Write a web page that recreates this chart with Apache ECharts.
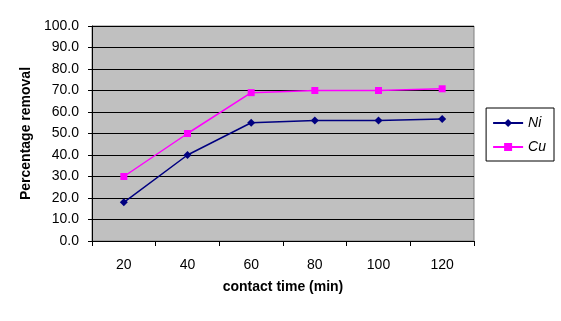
<!DOCTYPE html>
<html>
<head>
<meta charset="utf-8">
<script src="https://cdn.jsdelivr.net/npm/echarts@6/dist/echarts.min.js"></script>
<style>
  html, body { margin: 0; padding: 0; background: #fff; }
  #chart { width: 561px; height: 321px; }
</style>
</head>
<body>
<div id="chart"></div>
<script>
// contact time categories (min)
const times = ['20', '40', '60', '80', '100', '120'];
// percentage removal
const niValues = [18, 40, 55, 56, 56, 56.7];
const cuValues = [30, 50, 69, 70, 70, 70.8];

const chart = echarts.init(document.getElementById('chart'));
const fontFamily = 'Liberation Sans, Arial, sans-serif';

const option = {
  backgroundColor: '#ffffff',
  animation: false,
  textStyle: { fontFamily: fontFamily },
  grid: {
    left: 92,
    right: 87,
    top: 26,
    bottom: 80,
    show: true,
    backgroundColor: '#c0c0c0',
    borderColor: '#808080',
    borderWidth: 1
  },
  legend: {
    orient: 'vertical',
    right: 7,
    top: 108,
    padding: [8, 8, 7, 6],
    itemGap: 10,
    itemWidth: 30,
    itemHeight: 10,
    borderColor: '#000',
    borderWidth: 1,
    textStyle: { fontSize: 14, fontStyle: 'italic', color: '#000', fontFamily: fontFamily },
    data: ['Ni', 'Cu']
  },
  xAxis: {
    type: 'category',
    data: times,
    boundaryGap: true,
    name: 'contact time (min)',
    nameLocation: 'middle',
    nameGap: 39,
    nameTextStyle: { fontSize: 14, fontWeight: 'bold', color: '#000' },
    axisLine: { lineStyle: { color: '#000' } },
    axisTick: { show: true, alignWithLabel: false, length: 5, lineStyle: { color: '#000' } },
    axisLabel: { fontSize: 14, color: '#000', margin: 17 },
    splitLine: { show: false }
  },
  yAxis: {
    type: 'value',
    min: 0,
    max: 100,
    interval: 10,
    name: 'Percentage removal',
    nameLocation: 'middle',
    nameGap: 56,
    nameTextStyle: { fontSize: 14, fontWeight: 'bold', color: '#000' },
    axisLine: { show: true, lineStyle: { color: '#000' } },
    axisTick: { show: true, length: 4, lineStyle: { color: '#000' } },
    axisLabel: {
      fontSize: 14,
      color: '#000',
      margin: 13,
      formatter: v => v.toFixed(1)
    },
    splitLine: { show: true, lineStyle: { color: '#000', width: 1 } }
  },
  series: [
    {
      name: 'Ni',
      type: 'line',
      data: niValues,
      symbol: 'diamond',
      symbolSize: 8,
      lineStyle: { color: '#000080', width: 1.5 },
      itemStyle: { color: '#000080' }
    },
    {
      name: 'Cu',
      type: 'line',
      data: cuValues,
      symbol: 'rect',
      symbolSize: 7,
      lineStyle: { color: '#ff00ff', width: 1.5 },
      itemStyle: { color: '#ff00ff' }
    }
  ]
};

chart.setOption(option);
</script>
</body>
</html>
